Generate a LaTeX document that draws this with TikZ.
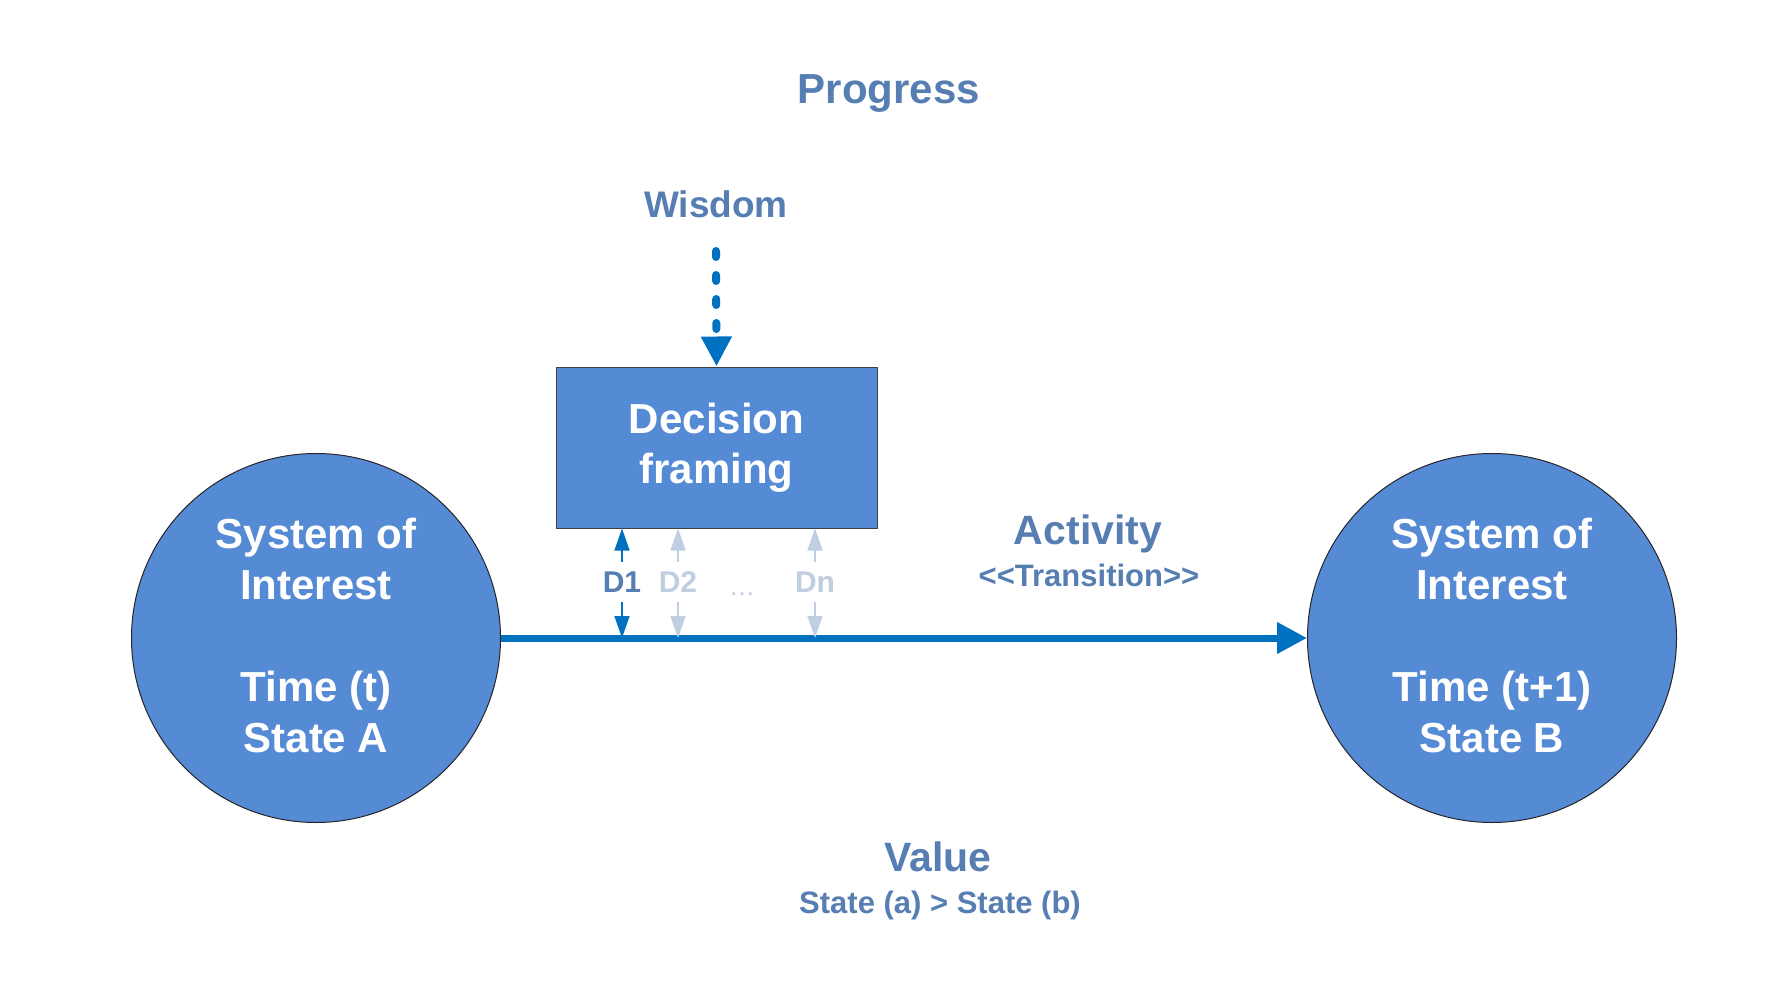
\documentclass[tikz,border=0pt]{standalone}
\usepackage{fontspec}
\setmainfont{Liberation Sans}
\usetikzlibrary{arrows.meta,calc}
\definecolor{fillblue}{RGB}{85,138,213}
\definecolor{arrowblue}{RGB}{0,112,192}
\definecolor{textblue}{RGB}{86,126,179}
\definecolor{lightblue}{RGB}{192,206,226}
\tikzset{
  soi/.style={circle,draw=black!85,line width=1pt,fill=fillblue,minimum size=369pt,inner sep=0pt,
    text=white,align=center,font=\bfseries\fontsize{42}{51}\selectfont},
  decbox/.style={rectangle,draw=black!75,line width=1pt,fill=fillblue,minimum width=321pt,minimum height=161pt,
    text=white,align=center,font=\bfseries\fontsize{42}{50}\selectfont},
  title/.style={text=textblue,font=\bfseries\fontsize{#1}{#1}\selectfont,inner sep=0pt},
  dlabel/.style={font=\bfseries\fontsize{30}{30}\selectfont,minimum height=40pt,inner sep=0pt},
  darrow/.style={line width=1.5pt,-{Triangle[width=15pt,length=22pt]}},
}
\begin{document}
\begin{tikzpicture}[x=1pt,y=-1pt]
\useasboundingbox[fill=white] (0,0) rectangle (1776,984);

\node[title=42] (progress) at (889,94) {Progress};
\node[title=37] (wisdom) at (716,204) {Wisdom};

\node[decbox] (dec) at (716.5,447.5) {Decision\\framing};

\node[soi] (A) at (316,638) {};
\node[align=center,text=white,font=\bfseries\fontsize{42}{51}\selectfont] (Atext) at (316,635) {System of\\Interest\\[51pt]Time (t)\\State A};
\node[soi] (B) at (1492,638) {};
\node[align=center,text=white,font=\bfseries\fontsize{42}{51}\selectfont] (Btext) at (1492,635) {System of\\Interest\\[51pt]Time (t+1)\\State B};

% main transition arrow
\draw[arrowblue,line width=7pt,-{Triangle[width=30pt,length=30pt]}] (A.east) -- (B.west);

% wisdom dashed arrow
\coordinate (wstart) at (716,251);
\draw[arrowblue,line width=8pt,line cap=round,dash pattern=on 6pt off 18pt,
  -{Triangle[width=29pt,length=30pt]}] (wstart) -- (dec.north);

% decision labels
\coordinate (lineY) at (0,638);
\node[dlabel,text=textblue] (D1) at (622,582) {D1};
\node[dlabel,text=lightblue] (D2) at (678,582) {D2};
\node[dlabel,text=lightblue] (Dn) at (815,582) {Dn};
\node[text=lightblue,font=\fontsize{26}{26}\selectfont,inner sep=0pt] (dots) at (742,594) {\dots};

\draw[darrow,arrowblue] (D1.north) -- (D1.north |- dec.south);
\draw[darrow,arrowblue] (D1.south) -- (D1.south |- lineY);
\draw[darrow,lightblue] (D2.north) -- (D2.north |- dec.south);
\draw[darrow,lightblue] (D2.south) -- (D2.south |- lineY);
\draw[darrow,lightblue] (Dn.north) -- (Dn.north |- dec.south);
\draw[darrow,lightblue] (Dn.south) -- (Dn.south |- lineY);

\node[title=41] (activity) at (1088,534) {Activity};
\node[title=31] (transition) at (1089,575) {{<}{<}Transition{>}{>}};

\node[title=41] (value) at (938,857) {Value};
\node[title=31] (valuesub) at (940,905) {State (a) {>} State (b)};
\end{tikzpicture}
\end{document}
